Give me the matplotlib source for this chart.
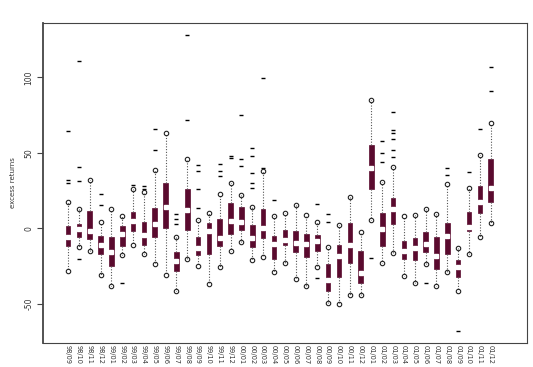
import numpy as np
import matplotlib.pyplot as plt

# month labels
meses = ['98/09', '98/10', '98/11', '98/12',
         '99/01', '99/02', '99/03', '99/04', '99/05', '99/06',
         '99/07', '99/08', '99/09', '99/10', '99/11', '99/12',
         '00/01', '00/02', '00/03', '00/04', '00/05', '00/06',
         '00/07', '00/08', '00/09', '00/10', '00/11', '00/12',
         '01/01', '01/02', '01/03', '01/04', '01/05', '01/06',
         '01/07', '01/08', '01/09', '01/10', '01/11', '01/12']

# box stats
q3 = [1.5, 2.9, 11.5, -5.1, -5.5, 1.8, 10.6, 4.0, 13.2, 29.8,
      -15.9, 26.0, -5.7, 3.5, 6.4, 16.6, 13.9, 2.2, 12.6, -4.9,
      -1.3, -1.5, -4.0, -4.4, -23.8, -11.0, 3.8, -15.0, 55.0, 10.4,
      20.3, -8.2, -6.6, -2.4, -5.7, 3.5, -21.0, 10.6, 28.3, 46.1]
mediana = [-5.7, -0.2, -1.5, -11.3, -15.5, -4.0, 4.9, -4.4, 3.1, 14.1,
           -21.6, 11.9, -13.0, -2.0, -6.2, 4.9, 4.2, -6.6, 0.0, -10.6,
           -7.9, -9.5, -10.6, -8.6, -34.4, -18.5, -11.3, -29.8, 39.7, -0.4,
           12.8, -15.2, -12.8, -10.6, -18.3, -4.9, -25.6, 0.7, 17.2, 26.9]
q1 = [-11.7, -6.0, -7.3, -17.0, -24.7, -11.5, -1.5, -11.0, -5.5, 0.0,
      -28.0, -1.1, -17.7, -17.0, -11.7, -3.5, -0.9, -12.1, -6.4, -20.3,
      -11.0, -15.9, -18.8, -14.8, -41.3, -32.5, -23.0, -36.4, 26.0, -11.5,
      2.6, -20.3, -21.0, -15.5, -26.7, -16.8, -32.0, -2.0, 10.4, 17.4]
bigote_sup = [17.4, 12.8, 32.0, 4.0, 12.6, 8.4, 26.0, 23.8, 38.9, 63.1,
              -6.0, 46.1, 5.5, 10.4, 22.7, 30.0, 21.9, 14.1, 38.2, 8.2,
              10.4, 15.7, 9.0, 4.4, -12.1, 2.0, 21.0, -2.4, 85.0, 30.9,
              40.8, 8.2, 8.8, 13.0, 9.5, 29.4, -12.8, 26.9, 48.6, 69.5]
bigote_inf = [-28.5, -12.1, -14.8, -31.1, -38.0, -17.4, -11.0, -17.2, -23.4, -30.7,
              -41.3, -20.1, -24.9, -37.1, -25.4, -14.8, -9.0, -21.0, -19.0, -29.1,
              -23.2, -33.3, -38.0, -25.6, -49.2, -49.9, -43.9, -43.9, 5.3, -23.0,
              -16.6, -31.3, -36.4, -23.8, -38.2, -28.7, -41.7, -17.0, -6.0, 3.5]
atipicos = [[32.0, 30.2, 64.5], [40.8, 31.6, 110.6, -20.3], [], [22.5, 15.2], [],
            [-36.2], [28.5], [28.0, 26.0], [51.7, 66.0], [],
            [9.5, 5.9, 2.8], [71.7, 128.0], [41.9, 38.2, 25.8, 13.2], [], [42.6, 38.2, 34.7],
            [47.9, 46.6], [45.7, 41.5, 74.8], [26.5, 29.8, 36.8, 47.9, 53.0], [99.3, 40.0], [18.8],
            [], [], [], [16.3, -32.7], [9.5, 4.0],
            [], [], [], [-20.0], [44.0, 49.7, 58.0],
            [77.2, 65.0, 62.9, 58.9, 51.9, 47.4], [], [], [-36.0], [],
            [40.0, 35.3], [-67.8], [37.5], [65.8], [90.7, 107.0]]

stats = []
for i in range(len(meses)):
    stats.append({'med': mediana[i], 'q1': q1[i], 'q3': q3[i],
                  'whislo': bigote_inf[i], 'whishi': bigote_sup[i],
                  'fliers': atipicos[i], 'label': meses[i]})

pos = np.arange(1, len(meses) + 1)
granate = '#5a0a2e'

fig = plt.figure(figsize=(5.33, 3.67), dpi=100)
ax = fig.add_axes([0.0807, 0.0654, 0.908, 0.872])

ax.bxp(stats, positions=pos, widths=0.42, patch_artist=True, showcaps=False,
       boxprops=dict(facecolor=granate, edgecolor=granate, linewidth=0.5),
       whiskerprops=dict(color='#555555', linestyle=(0, (1, 1.5)), linewidth=0.8),
       medianprops=dict(linewidth=0),
       flierprops=dict(marker='_', markeredgecolor='black', markersize=3.5,
                       markeredgewidth=1.0))

# extremos de los bigotes como circulos abiertos
ax.plot(pos, bigote_sup, 'o', mfc='none', mec='#222222', ms=3.2, mew=0.8, ls='none')
ax.plot(pos, bigote_inf, 'o', mfc='none', mec='#222222', ms=3.2, mew=0.8, ls='none')
# mediana como punto blanco
ax.plot(pos, mediana, 's', color='white', ms=2.2, ls='none')

ax.set_xlim(-1.31, 43.35)
ax.set_ylim(-76, 136)
ax.set_xticks(pos)
ax.set_xticklabels(meses, rotation=270, fontsize=4.8, color='#333333')
ax.tick_params(axis='x', length=0, pad=1.5)
ax.set_yticks([-50, 0, 50, 100])
ax.set_yticklabels(['-50', '0', '50', '100'], rotation=90, va='center',
                   fontsize=5.5, color='#333333')
ax.tick_params(axis='y', length=4, width=0.8, color='#444444', pad=3)
ax.set_ylabel('excess returns', fontsize=5, color='#333333', labelpad=6)

for lado in ax.spines.values():
    lado.set_linewidth(0.8)
    lado.set_color('#444444')
ax.spines['left'].set_linewidth(1.3)

plt.savefig('out.png', dpi=100)
